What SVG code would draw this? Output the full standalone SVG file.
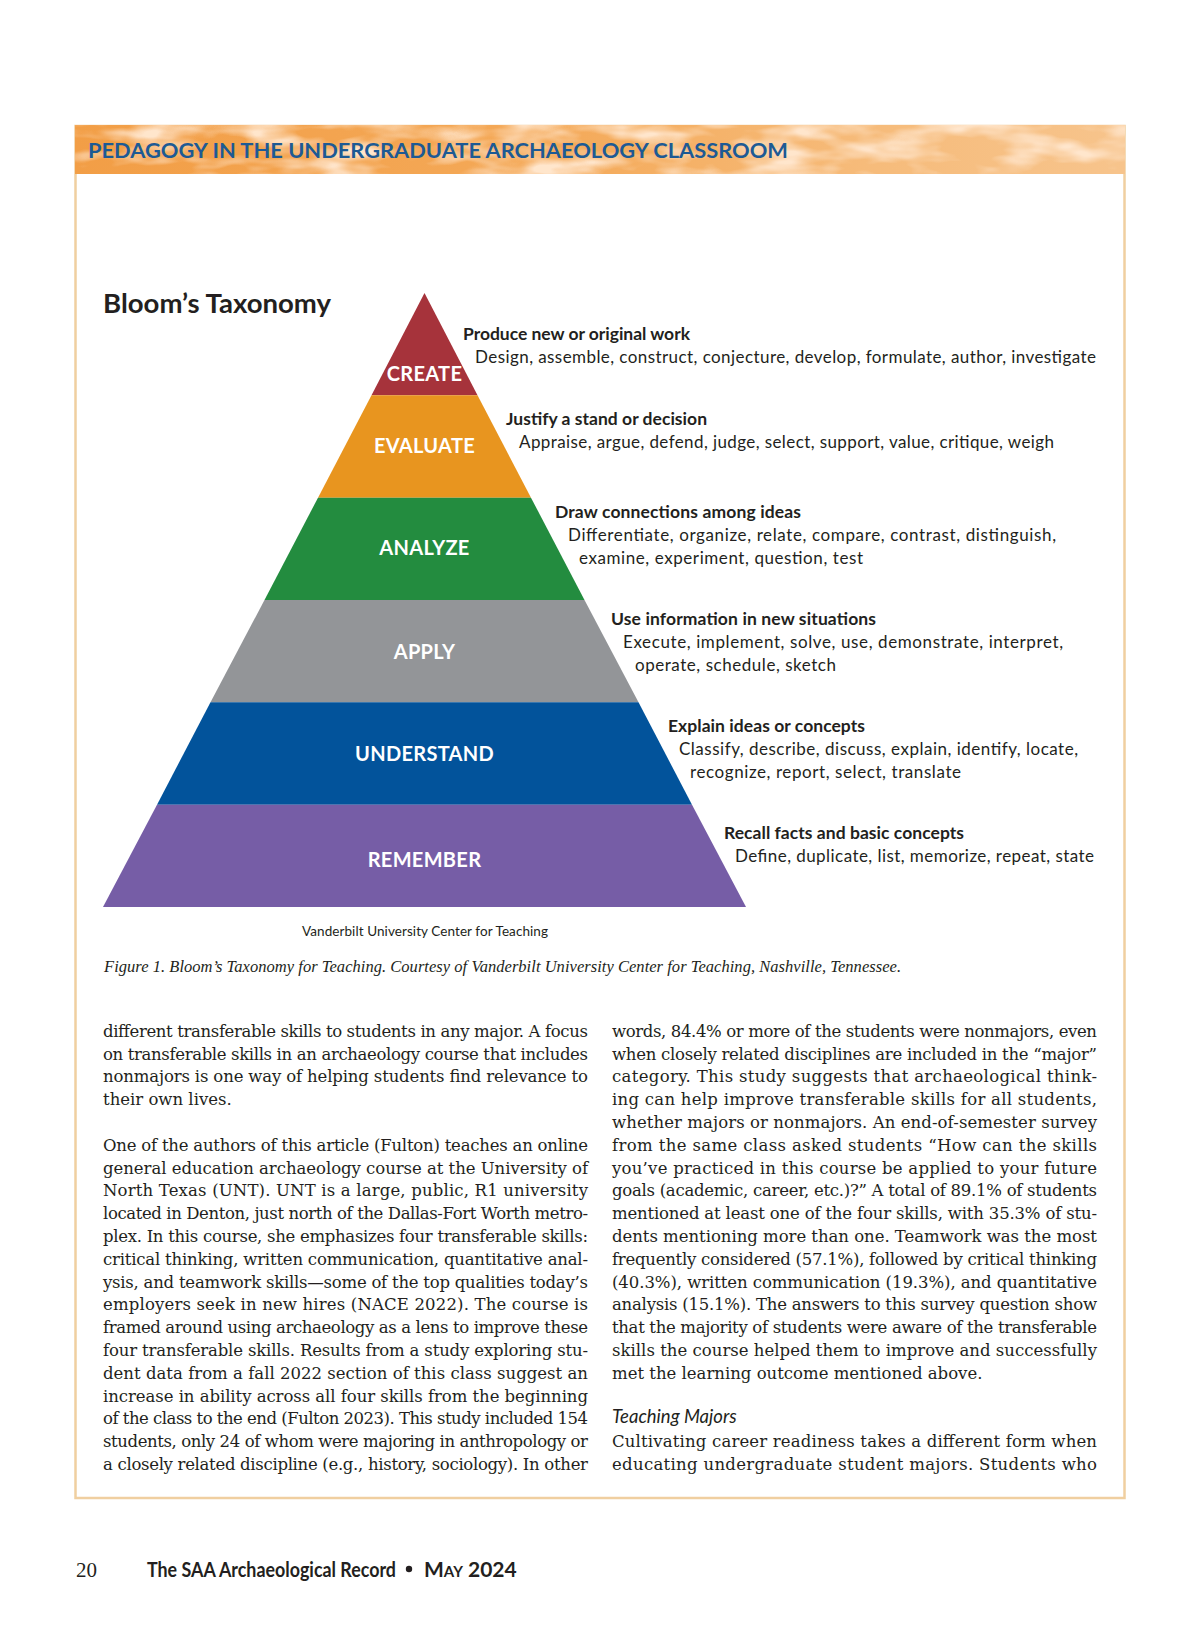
<svg xmlns="http://www.w3.org/2000/svg" width="1200" height="1631" viewBox="0 0 1200 1631">
<defs>
  <linearGradient id="bandGrad" x1="0" y1="0" x2="1" y2="0">
    <stop offset="0" stop-color="#F29E46"/>
    <stop offset="0.45" stop-color="#F4A958"/>
    <stop offset="0.75" stop-color="#F6BB7A"/>
    <stop offset="1" stop-color="#F7C48C"/>
  </linearGradient>
  <filter id="mottle" x="0" y="0" width="1" height="1" color-interpolation-filters="sRGB">
    <feTurbulence type="fractalNoise" baseFrequency="0.016 0.05" numOctaves="3" seed="3" result="noise"/>
    <feColorMatrix in="noise" type="matrix" values="0 0 0 0 1  0 0 0 0 0.9  0 0 0 0 0.8  2.6 0 0 0 -1.05" result="light"/>
    <feComposite in="light" in2="SourceGraphic" operator="atop"/>
  </filter>
  <style>
    .title{font-family:Lato,"Open Sans","Liberation Sans",sans-serif;font-weight:700;font-size:21px;fill:#1D5A94}
    .bloom{font-family:Lato,"Open Sans","Liberation Sans",sans-serif;font-weight:700;font-size:27px;fill:#231F20}
    .lvl{font-family:Lato,"Open Sans","Liberation Sans",sans-serif;font-weight:700;font-size:20px;fill:#FFFFFF;text-anchor:middle;letter-spacing:0.3px}
    .hd{font-family:Lato,"Open Sans","Liberation Sans",sans-serif;font-weight:700;font-size:17.5px;fill:#231F20}
    .ds{font-family:Lato,"Open Sans","Liberation Sans",sans-serif;font-weight:400;font-size:17px;fill:#231F20}
    .credit{font-family:Lato,"Open Sans","Liberation Sans",sans-serif;font-size:13.5px;fill:#231F20;text-anchor:middle}
    .cap{font-family:"Liberation Serif",serif;font-style:italic;font-size:16.5px;fill:#231F20}
    .body{font-family:"DejaVu Serif","Liberation Serif",serif;font-size:16.5px;fill:#231F20}
    .sub{font-family:Lato,"Open Sans","Liberation Sans",sans-serif;font-style:italic;font-size:18.5px;fill:#231F20}
    .foot{font-family:Lato,"Open Sans","Liberation Sans",sans-serif;font-weight:700;font-size:20px;fill:#231F20}
    .date{font-family:Lato,"Open Sans","Liberation Sans",sans-serif;font-weight:700;font-size:21px;font-variant:small-caps;fill:#231F20}
    .pnum{font-family:"Liberation Serif",serif;font-size:21px;fill:#231F20}
  </style>
</defs>

<rect x="0" y="0" width="1200" height="1631" fill="#FFFFFF"/>

<!-- frame and header band -->
<g id="frame">
  <rect x="75.5" y="126" width="1049" height="1372" fill="none" stroke="#F0CFA0" stroke-width="2.5"/>
  <rect x="75" y="125" width="1050" height="49" fill="url(#bandGrad)" filter="url(#mottle)"/>
  <text class="title" x="88" y="158" textLength="700" lengthAdjust="spacingAndGlyphs">PEDAGOGY IN THE UNDERGRADUATE ARCHAEOLOGY CLASSROOM</text>
</g>

<text class="bloom" x="103" y="313" textLength="228" lengthAdjust="spacingAndGlyphs">Bloom’s Taxonomy</text>

<g id="level-create">
  <polygon points="424.5,293 477.5,395.3 371.5,395.3" fill="#A6333B"/>
  <text class="lvl" x="424.5" y="381">CREATE</text>
  <text class="hd" x="463" y="340" textLength="227">Produce new or original work</text>
  <text class="ds" x="475" y="363" textLength="621">Design, assemble, construct, conjecture, develop, formulate, author, investigate</text>
</g>
<g id="level-evaluate">
  <polygon points="371.5,395.3 477.5,395.3 531,497.7 318,497.7" fill="#E8951F"/>
  <text class="lvl" x="424.5" y="453">EVALUATE</text>
  <text class="hd" x="506" y="425" textLength="201">Justify a stand or decision</text>
  <text class="ds" x="519" y="448" textLength="535">Appraise, argue, defend, judge, select, support, value, critique, weigh</text>
</g>
<g id="level-analyze">
  <polygon points="318,497.7 531,497.7 584.5,600 264.5,600" fill="#238C3F"/>
  <text class="lvl" x="424.5" y="555">ANALYZE</text>
  <text class="hd" x="555" y="518" textLength="246">Draw connections among ideas</text>
  <text class="ds" x="568" y="541" textLength="488">Differentiate, organize, relate, compare, contrast, distinguish,</text>
  <text class="ds" x="579" y="564" textLength="284">examine, experiment, question, test</text>
</g>
<g id="level-apply">
  <polygon points="264.5,600 584.5,600 638.5,702.3 210.5,702.3" fill="#939598"/>
  <text class="lvl" x="424.5" y="659">APPLY</text>
  <text class="hd" x="611" y="625" textLength="265">Use information in new situations</text>
  <text class="ds" x="623" y="648" textLength="440">Execute, implement, solve, use, demonstrate, interpret,</text>
  <text class="ds" x="635" y="671" textLength="201">operate, schedule, sketch</text>
</g>
<g id="level-understand">
  <polygon points="210.5,702.3 638.5,702.3 692,804.7 157,804.7" fill="#02539B"/>
  <text class="lvl" x="424.5" y="761">UNDERSTAND</text>
  <text class="hd" x="668" y="732" textLength="197">Explain ideas or concepts</text>
  <text class="ds" x="679" y="755" textLength="399">Classify, describe, discuss, explain, identify, locate,</text>
  <text class="ds" x="690" y="778" textLength="271">recognize, report, select, translate</text>
</g>
<g id="level-remember">
  <polygon points="157,804.7 692,804.7 746,907 103,907" fill="#765DA6"/>
  <text class="lvl" x="424.5" y="867">REMEMBER</text>
  <text class="hd" x="724" y="839" textLength="240">Recall facts and basic concepts</text>
  <text class="ds" x="735" y="862" textLength="359">Define, duplicate, list, memorize, repeat, state</text>
</g>

<g id="connectors"></g>

<text class="credit" x="425" y="936" textLength="246">Vanderbilt University Center for Teaching</text>
<text class="cap" x="104" y="972" textLength="797">Figure 1. Bloom’s Taxonomy for Teaching. Courtesy of Vanderbilt University Center for Teaching, Nashville, Tennessee.</text>

<g id="left-column">
  <text class="body" x="103" y="1036.7" textLength="485">different transferable skills to students in any major. A focus</text>
  <text class="body" x="103" y="1059.5" textLength="485">on transferable skills in an archaeology course that includes</text>
  <text class="body" x="103" y="1082.3" textLength="485">nonmajors is one way of helping students find relevance to</text>
  <text class="body" x="103" y="1105.1">their own lives.</text>
  <text class="body" x="103" y="1150.7" textLength="485">One of the authors of this article (Fulton) teaches an online</text>
  <text class="body" x="103" y="1173.5" textLength="485">general education archaeology course at the University of</text>
  <text class="body" x="103" y="1196.3" textLength="485">North Texas (UNT). UNT is a large, public, R1 university</text>
  <text class="body" x="103" y="1219.1" textLength="485">located in Denton, just north of the Dallas-Fort Worth metro-</text>
  <text class="body" x="103" y="1241.9" textLength="485">plex. In this course, she emphasizes four transferable skills:</text>
  <text class="body" x="103" y="1264.7" textLength="485">critical thinking, written communication, quantitative anal-</text>
  <text class="body" x="103" y="1287.5" textLength="485">ysis, and teamwork skills—some of the top qualities today’s</text>
  <text class="body" x="103" y="1310.3" textLength="485">employers seek in new hires (NACE 2022). The course is</text>
  <text class="body" x="103" y="1333.1" textLength="485">framed around using archaeology as a lens to improve these</text>
  <text class="body" x="103" y="1355.9" textLength="485">four transferable skills. Results from a study exploring stu-</text>
  <text class="body" x="103" y="1378.7" textLength="485">dent data from a fall 2022 section of this class suggest an</text>
  <text class="body" x="103" y="1401.5" textLength="485">increase in ability across all four skills from the beginning</text>
  <text class="body" x="103" y="1424.3" textLength="485">of the class to the end (Fulton 2023). This study included 154</text>
  <text class="body" x="103" y="1447.1" textLength="485">students, only 24 of whom were majoring in anthropology or</text>
  <text class="body" x="103" y="1469.9" textLength="485">a closely related discipline (e.g., history, sociology). In other</text>
</g>

<g id="right-column">
  <text class="body" x="612" y="1036.7" textLength="485">words, 84.4% or more of the students were nonmajors, even</text>
  <text class="body" x="612" y="1059.5" textLength="485">when closely related disciplines are included in the “major”</text>
  <text class="body" x="612" y="1082.3" textLength="485">category. This study suggests that archaeological think-</text>
  <text class="body" x="612" y="1105.1" textLength="485">ing can help improve transferable skills for all students,</text>
  <text class="body" x="612" y="1127.9" textLength="485">whether majors or nonmajors. An end-of-semester survey</text>
  <text class="body" x="612" y="1150.7" textLength="485">from the same class asked students “How can the skills</text>
  <text class="body" x="612" y="1173.5" textLength="485">you’ve practiced in this course be applied to your future</text>
  <text class="body" x="612" y="1196.3" textLength="485">goals (academic, career, etc.)?” A total of 89.1% of students</text>
  <text class="body" x="612" y="1219.1" textLength="485">mentioned at least one of the four skills, with 35.3% of stu-</text>
  <text class="body" x="612" y="1241.9" textLength="485">dents mentioning more than one. Teamwork was the most</text>
  <text class="body" x="612" y="1264.7" textLength="485">frequently considered (57.1%), followed by critical thinking</text>
  <text class="body" x="612" y="1287.5" textLength="485">(40.3%), written communication (19.3%), and quantitative</text>
  <text class="body" x="612" y="1310.3" textLength="485">analysis (15.1%). The answers to this survey question show</text>
  <text class="body" x="612" y="1333.1" textLength="485">that the majority of students were aware of the transferable</text>
  <text class="body" x="612" y="1355.9" textLength="485">skills the course helped them to improve and successfully</text>
  <text class="body" x="612" y="1378.7">met the learning outcome mentioned above.</text>
  <text class="sub" x="612" y="1422.5">Teaching Majors</text>
  <text class="body" x="612" y="1447.1" textLength="485">Cultivating career readiness takes a different form when</text>
  <text class="body" x="612" y="1469.9" textLength="485">educating undergraduate student majors. Students who</text>
</g>

<g id="footer">
  <text class="pnum" x="76" y="1577">20</text>
  <text class="foot" x="147" y="1577" textLength="249" lengthAdjust="spacingAndGlyphs">The SAA Archaeological Record</text>
  <circle cx="409" cy="1569" r="3.2" fill="#231F20"/>
  <text class="date" x="424" y="1577">May 2024</text>
</g>
</svg>
